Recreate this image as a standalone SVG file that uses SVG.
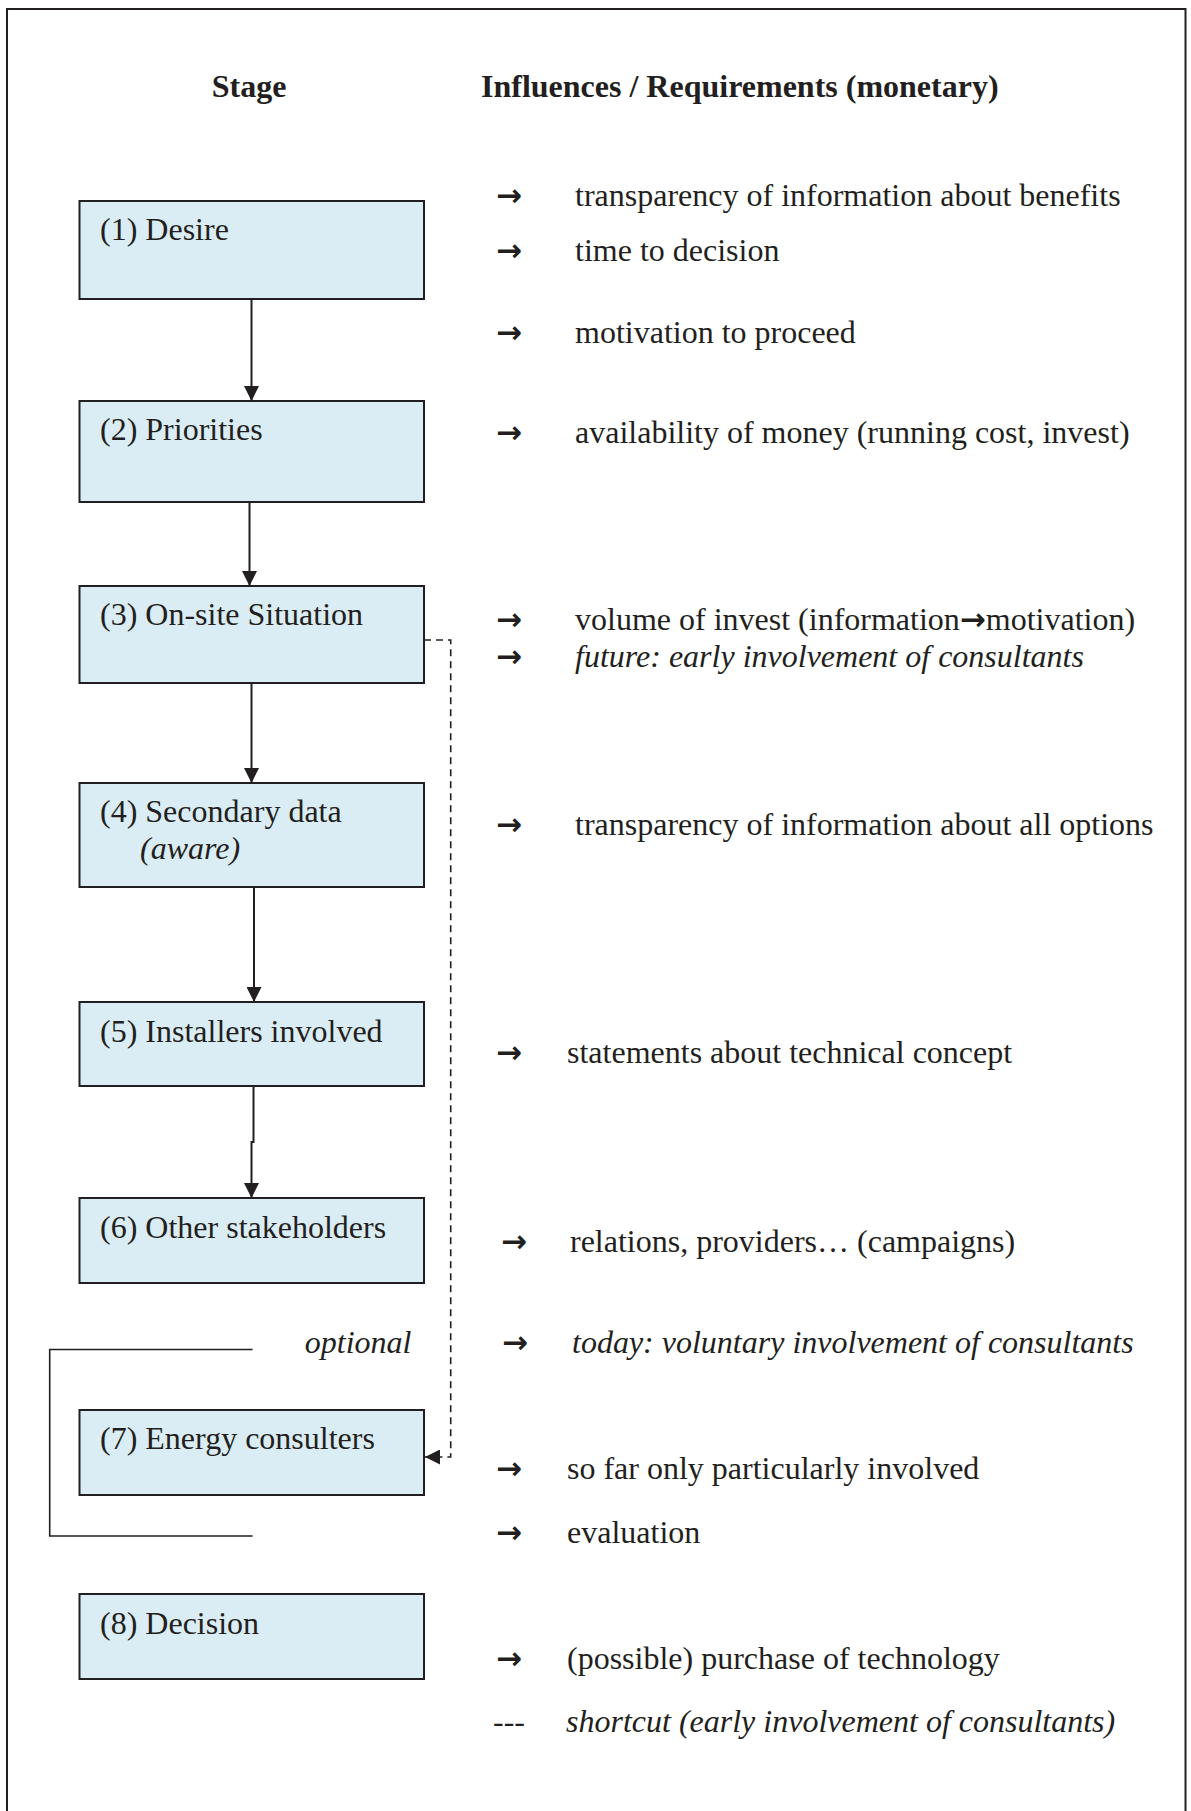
<svg xmlns="http://www.w3.org/2000/svg" width="1191" height="1811" viewBox="0 0 1191 1811">
<style>
text{font-family:"Liberation Serif","Times New Roman",serif;font-size:32px;fill:#231f20}
.b{font-weight:bold}
.i{font-style:italic}
.box{fill:#daedf4;stroke:#231f20;stroke-width:2}
.con{fill:none;stroke:#231f20;stroke-width:2}
.dash{fill:none;stroke:#231f20;stroke-width:1.6;stroke-dasharray:7 5}
.ar{font-family:"DejaVu Sans","Liberation Sans",sans-serif;font-size:31px;font-weight:bold;font-style:normal}
</style>
<defs>
<marker id="ah" viewBox="0 0 15 15" refX="15" refY="7.5" markerWidth="15" markerHeight="15" markerUnits="userSpaceOnUse" orient="auto">
<path d="M0,0 L15,7.5 L0,15 Z" fill="#231f20"/>
</marker>
</defs>
<rect width="1191" height="1811" fill="#ffffff"/>
<path d="M7,1815 V9 H1185.5 V1815" fill="none" stroke="#231f20" stroke-width="2"/>
<text class="b" x="249" y="97" text-anchor="middle">Stage</text>
<text class="b" x="481" y="97">Influences / Requirements (monetary)</text>

<g id="n1"><rect class="box" x="79.5" y="201" width="344.5" height="98"/><text x="100" y="240">(1) Desire</text></g>
<g id="n2"><rect class="box" x="79.5" y="401" width="344.5" height="101"/><text x="100" y="440">(2) Priorities</text></g>
<g id="n3"><rect class="box" x="79.5" y="586" width="344.5" height="97"/><text x="100" y="625">(3) On-site Situation</text></g>
<g id="n4"><rect class="box" x="79.5" y="783" width="344.5" height="104"/><text x="100" y="822">(4) Secondary data</text><text class="i" x="140" y="859">(aware)</text></g>
<g id="n5"><rect class="box" x="79.5" y="1002" width="344.5" height="84"/><text x="100" y="1042">(5) Installers involved</text></g>
<g id="n6"><rect class="box" x="79.5" y="1198" width="344.5" height="85"/><text x="100" y="1238">(6) Other stakeholders</text></g>
<g id="n7"><rect class="box" x="79.5" y="1410" width="344.5" height="85"/><text x="100" y="1449">(7) Energy consulters</text></g>
<g id="n8"><rect class="box" x="79.5" y="1594" width="344.5" height="85"/><text x="100" y="1634">(8) Decision</text></g>

<g id="connectors">
<path class="con" d="M251.5,299 V401" marker-end="url(#ah)"/>
<path class="con" d="M249.5,502 V586" marker-end="url(#ah)"/>
<path class="con" d="M251.5,683 V783" marker-end="url(#ah)"/>
<path class="con" d="M254,887 V1002" marker-end="url(#ah)"/>
<path class="con" d="M253.5,1086 V1142 H251.5 V1198" marker-end="url(#ah)"/>
<path class="dash" d="M424,640 H450.7 V1457 H425" marker-end="url(#ah)"/>
<path class="con" style="stroke-width:1.6" d="M252.6,1349.5 H49.7 V1536 H252.6"/>
</g>

<g id="optional"><text class="i" x="411.5" y="1353" text-anchor="end">optional</text></g>

<g id="influences">
<text class="ar" x="496" y="206">→</text><text x="575" y="206">transparency of information about benefits</text>
<text class="ar" x="496" y="261">→</text><text x="575" y="261">time to decision</text>
<text class="ar" x="496" y="343">→</text><text x="575" y="343">motivation to proceed</text>
<text class="ar" x="496" y="443">→</text><text x="575" y="443">availability of money (running cost, invest)</text>
<text class="ar" x="496" y="630">→</text><text x="575" y="630">volume of invest (information<tspan class="ar">→</tspan>motivation)</text>
<text class="ar" x="496" y="667">→</text><text class="i" x="575" y="667">future: early involvement of consultants</text>
<text class="ar" x="496" y="835">→</text><text x="575" y="835">transparency of information about all options</text>
<text class="ar" x="496" y="1063">→</text><text x="567" y="1063">statements about technical concept</text>
<text class="ar" x="501" y="1252">→</text><text x="570" y="1252">relations, providers… (campaigns)</text>
<text class="ar" x="502" y="1353">→</text><text class="i" x="572" y="1353">today: voluntary involvement of consultants</text>
<text class="ar" x="496" y="1479">→</text><text x="567" y="1479">so far only particularly involved</text>
<text class="ar" x="496" y="1543">→</text><text x="567" y="1543">evaluation</text>
<text class="ar" x="496" y="1669">→</text><text x="567" y="1669">(possible) purchase of technology</text>
<text x="493" y="1732">---</text><text class="i" x="566" y="1732">shortcut (early involvement of consultants)</text>
</g>
</svg>
